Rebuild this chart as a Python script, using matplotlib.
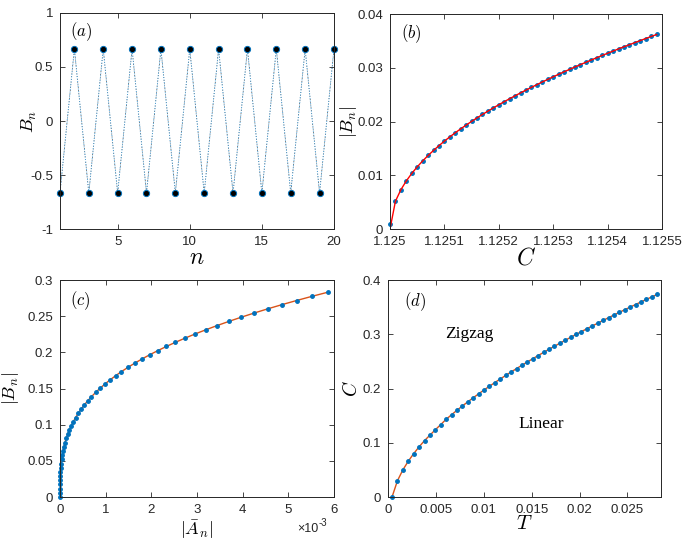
import matplotlib
matplotlib.use('Agg')
import matplotlib.pyplot as plt
from matplotlib.ticker import FuncFormatter

plt.rcParams['font.family'] = ['Liberation Sans', 'DejaVu Sans']
plt.rcParams['mathtext.fontset'] = 'cm'
plt.rcParams['axes.unicode_minus'] = False

# (a) zigzag profile
n_a = [1, 2, 3, 4, 5, 6, 7, 8, 9, 10, 11, 12, 13, 14, 15, 16, 17, 18, 19, 20]
B_a = [-0.6667, 0.6667, -0.6667, 0.6667, -0.6667, 0.6667, -0.6667, 0.6667, -0.6667, 0.6667,
       -0.6667, 0.6667, -0.6667, 0.6667, -0.6667, 0.6667, -0.6667, 0.6667, -0.6667, 0.6667]

# (b) |B_n| against C
C_b = [1.12500, 1.12501, 1.12502, 1.12503, 1.12504, 1.12505, 1.12506, 1.12507, 1.12508, 1.12509,
       1.12510, 1.12511, 1.12512, 1.12513, 1.12514, 1.12515, 1.12516, 1.12517, 1.12518, 1.12519,
       1.12520, 1.12521, 1.12522, 1.12523, 1.12524, 1.12525, 1.12526, 1.12527, 1.12528, 1.12529,
       1.12530, 1.12531, 1.12532, 1.12533, 1.12534, 1.12535, 1.12536, 1.12537, 1.12538, 1.12539,
       1.12540, 1.12541, 1.12542, 1.12543, 1.12544, 1.12545, 1.12546, 1.12547, 1.12548, 1.12549]
B_b = [0.00100, 0.00517, 0.00731, 0.00895, 0.01034, 0.01156, 0.01266, 0.01368, 0.01462, 0.01551,
       0.01635, 0.01715, 0.01791, 0.01864, 0.01934, 0.02002, 0.02068, 0.02132, 0.02193, 0.02254,
       0.02312, 0.02369, 0.02425, 0.02479, 0.02533, 0.02585, 0.02636, 0.02686, 0.02736, 0.02784,
       0.02832, 0.02879, 0.02925, 0.02970, 0.03015, 0.03059, 0.03102, 0.03145, 0.03187, 0.03229,
       0.03270, 0.03310, 0.03351, 0.03390, 0.03429, 0.03468, 0.03506, 0.03544, 0.03582, 0.03619]
B_b_fit = [0.0] + B_b[1:]

# (c) |B_n| against |A_n|
A_c = [0.0, 0.00000005, 0.0000004, 0.00000135, 0.00000319, 0.00000624, 0.00001078, 0.00001712,
       0.00002555, 0.00003638, 0.0000499, 0.00006642, 0.00008623, 0.00010963, 0.00013693,
       0.00016841, 0.00020439, 0.00024516, 0.00029102, 0.00034226, 0.0003992, 0.00046212,
       0.00053134, 0.00060713, 0.00068982, 0.00077969, 0.00087704, 0.00098218, 0.0010954,
       0.00121701, 0.0013473, 0.00148657, 0.00163512, 0.00179326, 0.00196127, 0.00213946,
       0.00232813, 0.00252758, 0.00273811, 0.00296002, 0.0031936, 0.00343916, 0.00369699,
       0.0039674, 0.00425068, 0.00454714, 0.00485707, 0.00518077, 0.00551854, 0.00587069]
B_c = [0.0, 0.00578, 0.01156, 0.01734, 0.02312, 0.0289, 0.03468, 0.04046, 0.04624, 0.05202,
       0.0578, 0.06358, 0.06936, 0.07514, 0.08092, 0.0867, 0.09248, 0.09826, 0.10404, 0.10982,
       0.1156, 0.12138, 0.12716, 0.13294, 0.13872, 0.1445, 0.15028, 0.15606, 0.16184, 0.16762,
       0.1734, 0.17918, 0.18496, 0.19074, 0.19652, 0.2023, 0.20808, 0.21386, 0.21964, 0.22542,
       0.2312, 0.23698, 0.24276, 0.24854, 0.25432, 0.2601, 0.26588, 0.27166, 0.27744, 0.28322]

# (d) phase boundary C(T)
T_d = [0.00042, 0.000985, 0.00155, 0.002115, 0.00268, 0.003245, 0.00381, 0.004375, 0.00494, 0.005505,
       0.00607, 0.006635, 0.0072, 0.007765, 0.00833, 0.008895, 0.00946, 0.010025, 0.01059, 0.011155,
       0.01172, 0.012285, 0.01285, 0.013415, 0.01398, 0.014545, 0.01511, 0.015675, 0.01624, 0.016805,
       0.01737, 0.017935, 0.0185, 0.019065, 0.01963, 0.020195, 0.02076, 0.021325, 0.02189, 0.022455,
       0.02302, 0.023585, 0.02415, 0.024715, 0.02528, 0.025845, 0.02641, 0.026975, 0.02754, 0.028105]
C_d = [0.0, 0.030, 0.050, 0.066, 0.080, 0.0925, 0.104, 0.114, 0.124, 0.1335,
       0.1433, 0.1517, 0.1599, 0.1678, 0.1755, 0.1829, 0.1902, 0.1973, 0.2042, 0.2110,
       0.2176, 0.2241, 0.2305, 0.2367, 0.2429, 0.2489, 0.2549, 0.2608, 0.2665, 0.2723,
       0.2779, 0.2834, 0.2889, 0.2943, 0.2997, 0.3049, 0.3102, 0.3153, 0.3204, 0.3255,
       0.3305, 0.3355, 0.3404, 0.3452, 0.3501, 0.3548, 0.3596, 0.3642, 0.3689, 0.3735]

blue = '#0072BD'
orange = '#D95319'
grey = '#262626'

fig = plt.figure(figsize=(6.83, 5.39), dpi=100)
ax_a = fig.add_axes([0.0878, 0.5751, 0.4012, 0.4008])
ax_b = fig.add_axes([0.5710, 0.5751, 0.3983, 0.3989])
ax_c = fig.add_axes([0.0878, 0.0779, 0.4012, 0.4026])
ax_d = fig.add_axes([0.5681, 0.0779, 0.3997, 0.4026])

fmt = FuncFormatter(lambda v, p: '%g' % v)
for ax in [ax_a, ax_b, ax_c, ax_d]:
    ax.tick_params(direction='in', top=True, right=True, length=3.5, width=0.6,
                   labelsize=9.5, colors=grey, pad=5)
    for s in ax.spines.values():
        s.set_color(grey)
        s.set_linewidth(0.7)
    ax.yaxis.set_major_formatter(fmt)

# (a)
ax_a.plot(n_a, B_a, ':', color='k', lw=0.5, dashes=(1, 3))
ax_a.plot(n_a, B_a, ':', color='#4da6e0', lw=0.7, dashes=(1, 1.6))
ax_a.plot(n_a, B_a, 'o', ls='none', mfc='k', mec=blue, ms=4.5, mew=0.7, clip_on=False)
ax_a.set_xlim(1, 20)
ax_a.set_ylim(-1, 1)
ax_a.set_xticks([5, 10, 15, 20])
ax_a.set_yticks([-1, -0.5, 0, 0.5, 1])
ax_a.xaxis.set_major_formatter(fmt)
ax_a.set_xlabel('$n$', fontsize=17)
ax_a.set_ylabel('$B_n$', fontsize=13)
ax_a.xaxis.set_label_coords(0.5, -0.085)
ax_a.yaxis.set_label_coords(-0.075, 0.5)
ax_a.text(0.035, 0.915, '$(a)$', transform=ax_a.transAxes, fontsize=12, va='center')

# (b)
ax_b.plot(C_b, B_b, '.', color=blue, ms=5, clip_on=False)
ax_b.plot(C_b, B_b_fit, '-', color='r', lw=1.0)
ax_b.set_xlim(1.125, 1.1255)
ax_b.set_ylim(0, 0.04)
ax_b.set_xticks([1.125, 1.1251, 1.1252, 1.1253, 1.1254, 1.1255])
ax_b.set_yticks([0, 0.01, 0.02, 0.03, 0.04])
ax_b.xaxis.set_major_formatter(fmt)
ax_b.set_xlabel('$C$', fontsize=17)
ax_b.set_ylabel('$|B_n|$', fontsize=13)
ax_b.xaxis.set_label_coords(0.5, -0.085)
ax_b.yaxis.set_label_coords(-0.115, 0.5)
ax_b.text(0.04, 0.91, '$(b)$', transform=ax_b.transAxes, fontsize=12, va='center')

# (c)
ax_c.plot(A_c, B_c, '-', color=orange, lw=1.0)
ax_c.plot(A_c, B_c, '.', color=blue, ms=5, clip_on=False)
ax_c.set_xlim(0, 0.006)
ax_c.set_ylim(0, 0.3)
ax_c.set_xticks([0, 0.001, 0.002, 0.003, 0.004, 0.005, 0.006])
ax_c.set_yticks([0, 0.05, 0.1, 0.15, 0.2, 0.25, 0.3])
ax_c.xaxis.set_major_formatter(FuncFormatter(lambda v, p: '%g' % round(v * 1000, 6)))
ax_c.text(0.865, -0.118, '×10', transform=ax_c.transAxes, fontsize=9, color=grey, va='top')
ax_c.text(0.942, -0.098, '-3', transform=ax_c.transAxes, fontsize=7, color=grey, va='top')
ax_c.set_xlabel(r'$|\bar{A}_n|$', fontsize=13)
ax_c.set_ylabel(r'$|\bar{B}_n|$', fontsize=13)
ax_c.xaxis.set_label_coords(0.5, -0.095)
ax_c.yaxis.set_label_coords(-0.14, 0.5)
ax_c.text(0.035, 0.905, '$(c)$', transform=ax_c.transAxes, fontsize=12, va='center')

# (d)
ax_d.plot(T_d, C_d, '-', color=orange, lw=1.0)
ax_d.plot(T_d, C_d, '.', color=blue, ms=5, clip_on=False)
ax_d.set_xlim(0, 0.0285)
ax_d.set_ylim(0, 0.4)
ax_d.set_xticks([0, 0.005, 0.01, 0.015, 0.02, 0.025])
ax_d.set_yticks([0, 0.1, 0.2, 0.3, 0.4])
ax_d.xaxis.set_major_formatter(fmt)
ax_d.set_xlabel('$T$', fontsize=15)
ax_d.set_ylabel('$C$', fontsize=14)
ax_d.xaxis.set_label_coords(0.5, -0.08)
ax_d.yaxis.set_label_coords(-0.10, 0.5)
ax_d.text(0.06, 0.9, '$(d)$', transform=ax_d.transAxes, fontsize=12, va='center')
ax_d.text(0.00595, 0.30, 'Zigzag', fontsize=12.5, family='Liberation Serif', va='center')
ax_d.text(0.01357, 0.1346, 'Linear', fontsize=12.5, family='Liberation Serif', va='center')

fig.savefig('out.png', dpi=100)
